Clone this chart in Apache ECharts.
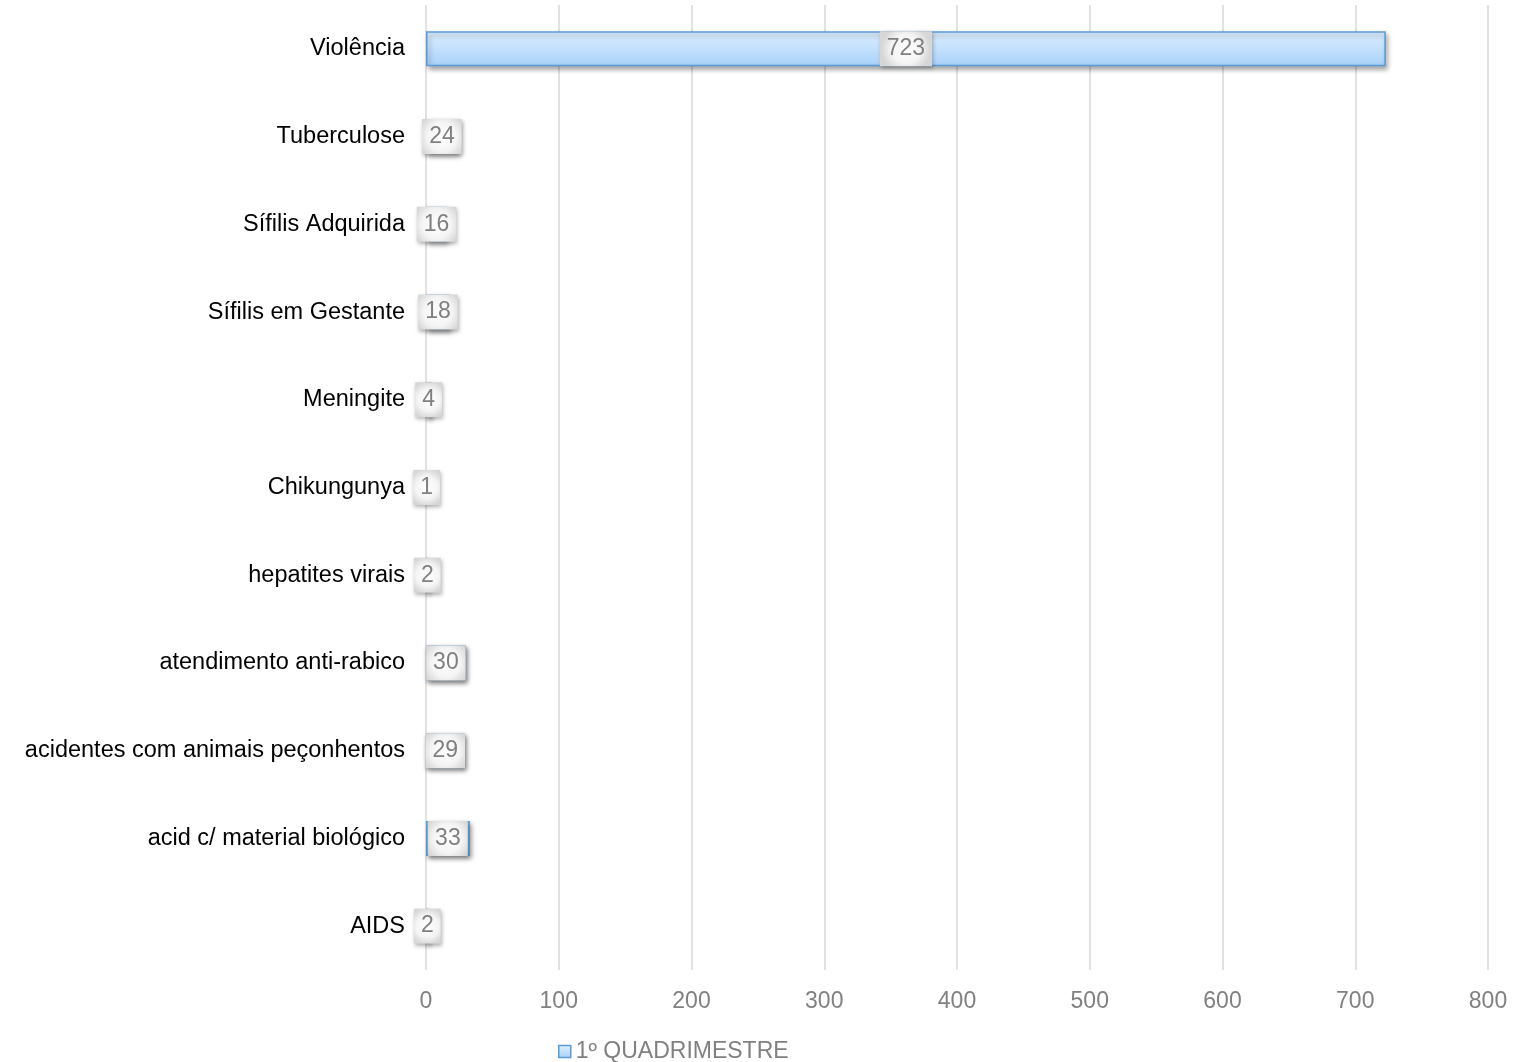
<!DOCTYPE html>
<html><head><meta charset="utf-8">
<script src="https://cdn.jsdelivr.net/npm/echarts@6/dist/echarts.min.js"></script>
<style>html,body{margin:0;padding:0;background:#fff}#c{width:1516px;height:1062px}</style>
</head><body><div id="c"></div>
<script>
const categories = ["AIDS","acid c/ material biológico","acidentes com animais peçonhentos","atendimento anti-rabico","hepatites virais","Chikungunya","Meningite","Sífilis em Gestante","Sífilis Adquirida","Tuberculose","Violência"];
const values = [2,33,29,30,2,1,4,18,16,24,723];
const seriesName = "1º QUADRIMESTRE";
const xTicks = {min:0,max:800,interval:100};

const FONT = 'Liberation Sans, Arial, sans-serif';
const chart = echarts.init(document.getElementById('c'));
chart.setOption({
  animation:false,
  grid:{left:426,right:28,top:5,bottom:92},
  legend:{top:1035,left:553,data:[{name:seriesName,icon:'rect'}],itemWidth:12,itemHeight:12,itemGap:5,
    itemStyle:{borderColor:'#5b9bd5',borderWidth:1.5},
    textStyle:{color:'#808080',fontSize:23,fontFamily:FONT}},
  xAxis:{type:'value',min:xTicks.min,max:xTicks.max,interval:xTicks.interval,
    axisLine:{show:false},axisTick:{show:false},
    splitLine:{lineStyle:{color:'#d9d9d9',width:1.5}},
    axisLabel:{color:'#808080',fontSize:23,fontFamily:FONT,margin:20}},
  yAxis:{type:'category',data:categories,axisLine:{show:false},axisTick:{show:false},
    axisLabel:{color:'#000',fontSize:23.5,fontFamily:FONT,margin:21}},
  series:[{name:seriesName,type:'bar',data:values,barWidth:35,
    itemStyle:{color:new echarts.graphic.LinearGradient(0,0,0,1,[{offset:0,color:'#ddefff'},{offset:1,color:'#a8d1fa'}]),
      borderColor:'#5b9bd5',borderWidth:1.5,shadowColor:'rgba(0,0,0,0.35)',shadowBlur:5,shadowOffsetX:2,shadowOffsetY:3},
    label:{show:true,position:'inside',color:'#808080',fontSize:23,fontFamily:FONT,
      backgroundColor:new echarts.graphic.RadialGradient(0.5,0.5,0.7,[{offset:0,color:'#ffffff'},{offset:0.6,color:'#f4f4f4'},{offset:1,color:'#d6d6d6'}]),
      padding:[7,7,5,7],
      shadowColor:'rgba(0,0,0,0.3)',shadowBlur:4,shadowOffsetX:1,shadowOffsetY:2}}]
});
</script></body></html>
